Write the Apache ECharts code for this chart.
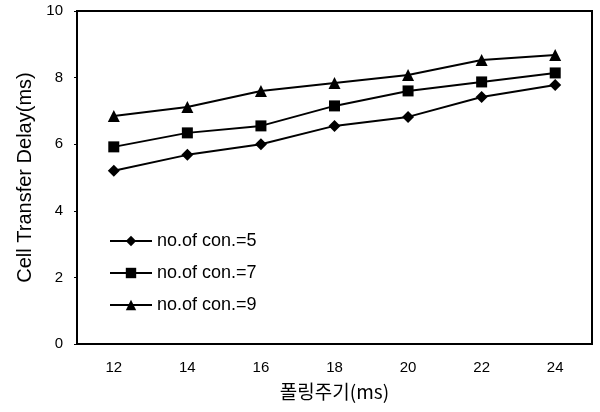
<!DOCTYPE html>
<html><head><meta charset="utf-8">
<script src="https://cdn.jsdelivr.net/npm/echarts@6/dist/echarts.min.js"></script>
<style>html,body{margin:0;padding:0;background:#fff}#c{width:600px;height:412px}</style>
</head><body><div id="c"></div>
<script>
var categories = ['12','14','16','18','20','22','24'];
var con5 = [5.2, 5.68, 6.0, 6.55, 6.82, 7.42, 7.78];
var con7 = [5.92, 6.34, 6.55, 7.15, 7.6, 7.87, 8.14];
var con9 = [6.85, 7.12, 7.6, 7.84, 8.08, 8.53, 8.68];
var names = ['no.of con.=5','no.of con.=7','no.of con.=9'];
var font = 'Liberation Sans, Arial, sans-serif';
var chart = echarts.init(document.getElementById('c'));
function s(name, data, sym, size){
  return {name:name, type:'line', data:data, symbol:sym, symbolSize:size,
    lineStyle:{color:'#000', width:2}, itemStyle:{color:'#000'}, animation:false};
}
chart.setOption({
  animation:false,
  grid:{left:77, right:8, top:11, bottom:68, show:true, borderColor:'#000', borderWidth:2},
  legend:{orient:'vertical', left:104, top:227, itemGap:14, itemWidth:42, itemHeight:13,
    itemTextGap:6,
    textStyle:{fontFamily:font, fontSize:18, color:'#000'},
    data:names.map(function(n){return {name:n};})},
  xAxis:{type:'category', data:categories, boundaryGap:true,
    axisLine:{lineStyle:{color:'#000', width:2}}, axisTick:{show:false},
    axisLabel:{fontFamily:font, fontSize:15, color:'#000', margin:16},
    name:'폴링주기(ms)', nameLocation:'middle', nameGap:38,
    nameTextStyle:{fontFamily:'Noto Sans CJK KR, sans-serif', fontSize:19, color:'#000'}},
  yAxis:{type:'value', min:0, max:10, interval:2,
    axisLine:{show:true, lineStyle:{color:'#000', width:2}},
    axisTick:{show:true, inside:false, length:3, lineStyle:{color:'#000'}},
    splitLine:{show:false},
    axisLabel:{fontFamily:font, fontSize:15, color:'#000', margin:14},
    name:'Cell Transfer Delay(ms)', nameLocation:'middle', nameGap:40,
    nameTextStyle:{fontFamily:font, fontSize:20, color:'#000'}},
  series:[
    s(names[0], con5, 'diamond', 12),
    s(names[1], con7, 'rect', 11),
    s(names[2], con9, 'triangle', 12)
  ]
});
</script></body></html>
